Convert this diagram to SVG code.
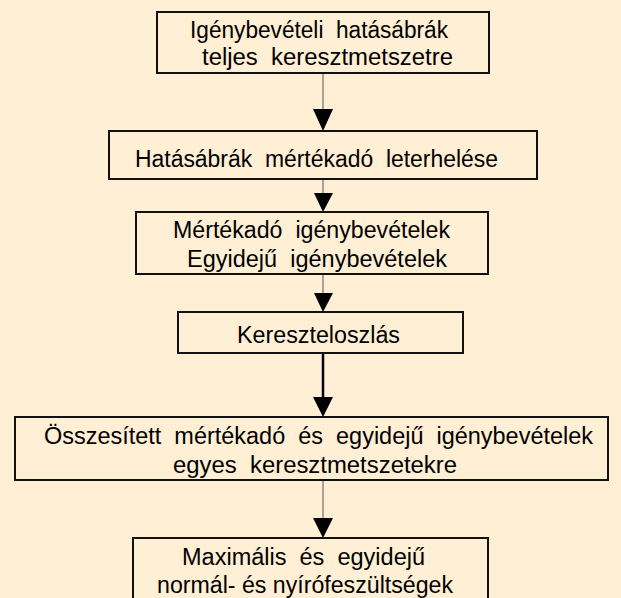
<svg xmlns="http://www.w3.org/2000/svg" width="621" height="598" viewBox="0 0 621 598">
<defs>
<style>
.bg{fill:#FFEFD5}
.box{fill:#FFEFD5;stroke:#111;stroke-width:2}
.t{font-family:"Liberation Sans",Arial,sans-serif;font-size:23px;fill:#000;white-space:pre}
.ln{stroke:#555;stroke-width:1;fill:none}
.lnb{stroke:#000;stroke-width:2.5;fill:none}
.ah{fill:#000}
</style>
</defs>
<rect class="bg" x="0" y="0" width="621" height="598"/>
<g id="connectors">
<line class="ln" x1="323" y1="73" x2="323" y2="112"/>
<polygon class="ah" points="313,109 333,109 323,131"/>
<line class="ln" x1="323" y1="179" x2="323" y2="194"/>
<polygon class="ah" points="314,193 333,193 323,212"/>
<line class="ln" x1="323" y1="274" x2="323" y2="294"/>
<polygon class="ah" points="314,293 333,293 323,312"/>
<line class="lnb" x1="323" y1="353" x2="323" y2="400"/>
<polygon class="ah" points="313,397 333,397 323,417"/>
<line class="ln" x1="323" y1="480" x2="323" y2="520"/>
<polygon class="ah" points="313,518 333,518 323,538"/>
</g>
<g id="n1">
<rect class="box" x="157" y="12" width="332" height="61"/>
<text class="t" x="190" y="37.5" textLength="258" lengthAdjust="spacingAndGlyphs">Igénybevételi  hatásábrák</text>
<text class="t" x="202" y="65" textLength="251" lengthAdjust="spacingAndGlyphs">teljes  keresztmetszetre</text>
</g>
<g id="n2">
<rect class="box" x="109" y="131" width="428" height="48"/>
<text class="t" x="135" y="167" textLength="363" lengthAdjust="spacingAndGlyphs">Hatásábrák  mértékadó  leterhelése</text>
</g>
<g id="n3">
<rect class="box" x="136" y="212" width="352" height="62"/>
<text class="t" x="173" y="238" textLength="277" lengthAdjust="spacingAndGlyphs">Mértékadó  igénybevételek</text>
<text class="t" x="187" y="267" textLength="260" lengthAdjust="spacingAndGlyphs">Egyidejű  igénybevételek</text>
</g>
<g id="n4">
<rect class="box" x="178" y="312" width="285" height="41"/>
<text class="t" x="237" y="343" textLength="163" lengthAdjust="spacingAndGlyphs">Kereszteloszlás</text>
</g>
<g id="n5">
<rect class="box" x="15" y="417" width="593" height="63"/>
<text class="t" x="44" y="444" textLength="549" lengthAdjust="spacingAndGlyphs">Összesített  mértékadó  és  egyidejű  igénybevételek</text>
<text class="t" x="173" y="473" textLength="284" lengthAdjust="spacingAndGlyphs">egyes  keresztmetszetekre</text>
</g>
<g id="n6">
<rect class="box" x="133" y="538" width="355" height="70"/>
<text class="t" x="182" y="565" textLength="243" lengthAdjust="spacingAndGlyphs">Maximális  és  egyidejű</text>
<text class="t" x="157" y="593" textLength="296" lengthAdjust="spacingAndGlyphs">normál- és nyírófeszültségek</text>
</g>
</svg>
